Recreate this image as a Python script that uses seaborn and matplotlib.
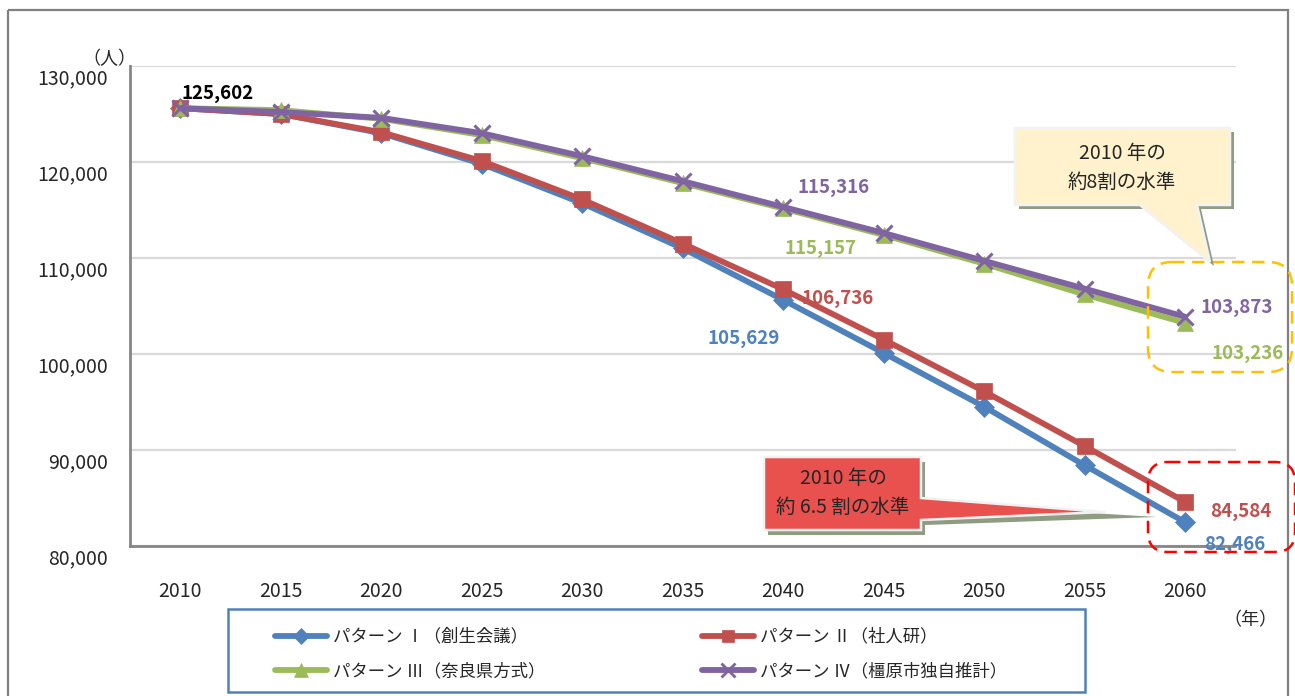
import pandas as pd
import numpy as np
import matplotlib
matplotlib.use("Agg")
import matplotlib.pyplot as plt
import seaborn as sns
from matplotlib.patches import Polygon, Rectangle, FancyBboxPatch
from matplotlib.transforms import Affine2D, ScaledTranslation
from matplotlib.lines import Line2D

years = [2010, 2015, 2020, 2025, 2030, 2035, 2040, 2045, 2050, 2055, 2060]
pattern1 = [125602, 125000, 123000, 119800, 115700, 111000, 105629, 100100, 94500, 88400, 82466]
pattern2 = [125602, 125000, 123100, 120100, 116100, 111500, 106736, 101500, 96100, 90400, 84584]
pattern3 = [125602, 125400, 124500, 122800, 120400, 117800, 115157, 112400, 109400, 106200, 103236]
pattern4 = [125602, 125200, 124600, 123000, 120600, 118000, 115316, 112600, 109700, 106800, 103873]
names = ["パターン Ⅰ（創生会議）", "パターン Ⅱ（社人研）",
         "パターン Ⅲ（奈良県方式）", "パターン Ⅳ（橿原市独自推計）"]
y_ticks = [80000, 90000, 100000, 110000, 120000, 130000]

colors = ["#4F81BD", "#C0504D", "#9BBB59", "#8064A2"]
markers = ["D", "s", "^", "x"]
msizes = [10, 11, 12, 12]

sns.set_style("white")
plt.rcParams['font.family'] = ['Noto Sans CJK JP', 'DejaVu Sans']

df = pd.DataFrame({"year": years * 4,
                   "pop": pattern1 + pattern2 + pattern3 + pattern4,
                   "pattern": sum([[n] * len(years) for n in names], [])})

W, H = 1295, 696
fig = plt.figure(figsize=(W / 100, H / 100), dpi=100)
ax = fig.add_axes([130 / W, 1 - 546 / H, (1235.5 - 130) / W, (546 - 66) / H])
pix = Affine2D().scale(1, -1).translate(0, H)

for i, n in enumerate(names):
    sub = df[df["pattern"] == n]
    sns.lineplot(data=sub, x="year", y="pop", color=colors[i], lw=4.2,
                 marker=markers[i], markersize=msizes[i],
                 markeredgewidth=2.2 if markers[i] == "x" else 0.5,
                 markeredgecolor=colors[i], ax=ax, zorder=3 + i)

ax.set_xlim(2007.5, 2062.5)
ax.set_ylim(80000, 130000)
ax.set_xticks(years)
ax.set_xticklabels([str(y) for y in years])
ax.set_xticks(np.arange(2007.5, 2063, 5), minor=True)
ax.set_yticks(y_ticks)
ax.set_yticklabels([f"{v:,}" for v in y_ticks])
ax.set_xlabel("")
ax.set_ylabel("")
ax.grid(axis="y", color="#D9D9D9", lw=1.6)
ax.set_axisbelow(True)
for s in ["top", "right"]:
    ax.spines[s].set_visible(False)
for s in ["left", "bottom"]:
    ax.spines[s].set_color("#868686")
    ax.spines[s].set_linewidth(2)
ax.tick_params(axis="x", which="major", length=0, pad=25, labelsize=14)
ax.tick_params(axis="x", which="minor", length=6, width=2, color="#868686", direction="out")
ax.tick_params(axis="y", length=6, width=2, color="#868686", direction="out", pad=10, labelsize=14)
for lab in ax.get_yticklabels():
    lab.set_transform(lab.get_transform() + ScaledTranslation(0, -10 / 100, fig.dpi_scale_trans))

# data labels
labels = [
    (0, 2010, "#000000", (37, 15)),
    (3, 2040, colors[3], (50, 19)),
    (2, 2040, colors[2], (37, -40)),
    (1, 2040, colors[1], (54, -9)),
    (0, 2040, colors[0], (-40, -39)),
    (3, 2060, colors[3], (51, 9)),
    (2, 2060, colors[2], (62, -31)),
    (1, 2060, colors[1], (56, -10)),
    (0, 2060, colors[0], (50, -22)),
]
series = [pattern1, pattern2, pattern3, pattern4]
for si, yr, c, off in labels:
    v = series[si][years.index(yr)]
    ax.annotate(f"{v:,}", (yr, v), xytext=off, textcoords="offset pixels",
                ha="center", va="center", color=c, fontsize=13.5,
                fontweight="bold", zorder=10, annotation_clip=False)

fig.text(109 / W, 1 - 59 / H, "（人）", ha="center", va="center", fontsize=13)
fig.text(1250 / W, 1 - 620 / H, "（年）", ha="center", va="center", fontsize=13)

# outer frame and legend frame
fig.add_artist(Rectangle((8, 10), 1280, 700, transform=pix, fill=False,
                         ec="#808080", lw=1.6, clip_on=False))
fig.add_artist(Rectangle((228, 609), 857, 83, transform=pix, fill=False,
                         ec="#4F81BD", lw=1.8, clip_on=False))

# yellow callout
yel = [(1015, 128), (1230, 128), (1230, 205), (1197, 205), (1210, 262),
       (1140, 205), (1015, 205)]
fig.add_artist(Polygon([(x + 4, y + 4) for x, y in yel], closed=True, transform=pix,
                       fc="#8E9C82", ec="none", zorder=20))
fig.add_artist(Polygon(yel, closed=True, transform=pix, fc="#FFF2CC",
                       ec="#F2F2F2", lw=1.8, zorder=21))
fig.text(1122 / W, 1 - 168 / H, "2010 年の\n約8割の水準", ha="center", va="center",
         fontsize=14, linespacing=1.5, zorder=22)

# red callout
red = [(764, 457), (921, 457), (921, 498), (1105, 512), (921, 520),
       (921, 530), (764, 530)]
fig.add_artist(Polygon([(x + 4, y + 5) for x, y in red[:3]] + [(1157, 517)] +
                       [(x + 4, y + 5) for x, y in red[4:]], closed=True,
                       transform=pix, fc="#8E9C82", ec="none", zorder=20))
fig.add_artist(Polygon(red, closed=True, transform=pix, fc="#E8514D",
                       ec="#F2F2F2", lw=1.8, zorder=21))
fig.text(843 / W, 1 - 493 / H, "2010 年の\n約 6.5 割の水準", ha="center", va="center",
         fontsize=14, linespacing=1.5, zorder=22)

# dashed rounded boxes
fig.add_artist(FancyBboxPatch((1148, 262), 144, 110, boxstyle="round,pad=0,rounding_size=24",
                              transform=pix, fill=False, ec="#FFC000", lw=1.8,
                              ls=(0, (5, 3)), zorder=19))
fig.add_artist(FancyBboxPatch((1148, 462), 147, 90, boxstyle="round,pad=0,rounding_size=20",
                              transform=pix, fill=False, ec="#FF0000", lw=1.8,
                              ls=(0, (5, 3)), zorder=19))

# legend (row-wise order)
handles = [Line2D([], [], color=colors[i], lw=4.2, marker=markers[i],
                  markersize=msizes[i] * 0.8,
                  markeredgewidth=2 if markers[i] == "x" else 0.5,
                  markeredgecolor=colors[i]) for i in range(4)]
order = [0, 2, 1, 3]
fig.legend([handles[i] for i in order], [names[i] for i in order], ncol=2,
           frameon=False, loc="center left",
           bbox_to_anchor=(275 / W, 1 - 654 / H), bbox_transform=fig.transFigure,
           borderpad=0, borderaxespad=0, fontsize=12.5, handlelength=3.0,
           handletextpad=0.35, columnspacing=9.0, labelspacing=0.95)

fig.savefig("out.png", dpi=100)
